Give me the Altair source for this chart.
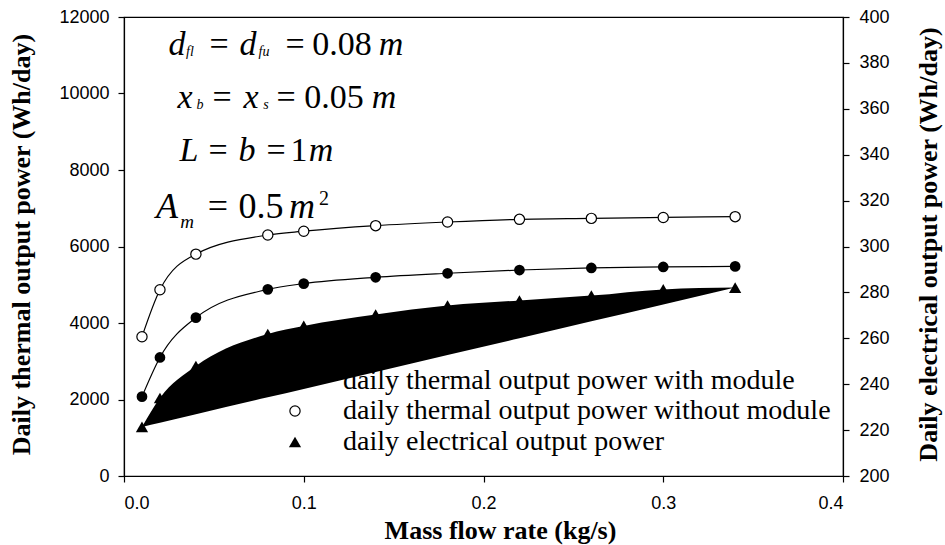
import altair as alt
import pandas as pd

# ---------------- data ----------------
mass_flow = [0.01, 0.02, 0.04, 0.08, 0.10, 0.14, 0.18, 0.22, 0.26, 0.30, 0.34]
thermal_without = [3640, 4870, 5800, 6300, 6400, 6545, 6640, 6710, 6735, 6760, 6780]
thermal_with = [2075, 3100, 4140, 4880, 5030, 5195, 5300, 5385, 5440, 5465, 5480]
electrical = [221.4, 234.0, 247.9, 261.9, 265.4, 270.4, 274.3, 276.5, 278.6, 281.3, 282.1]

legend_labels = [
    "daily thermal output power with module",
    "daily thermal output power without module",
    "daily electrical output power",
]
x_ticks = [0.0, 0.1, 0.2, 0.3, 0.4]
left_ticks = [0, 2000, 4000, 6000, 8000, 10000, 12000]
right_ticks = [200, 220, 240, 260, 280, 300, 320, 340, 360, 380, 400]

# ---------------- tables ----------------
df = pd.DataFrame({
    "x": mass_flow,
    "without": thermal_without,
    "with": thermal_with,
    "elec": electrical,
})
x0, xn = mass_flow[0], mass_flow[-1]
e0, en = electrical[0], electrical[-1]
df["chord"] = [e0 + (v - x0) * (en - e0) / (xn - x0) for v in mass_flow]

W, H = 719, 459
SERIF = "Liberation Serif"

xenc = alt.X("x:Q", scale=alt.Scale(domain=[0, 0.4], nice=False),
             axis=alt.Axis(values=x_ticks, format=".1f", title="Mass flow rate (kg/s)",
                           tickSize=6, labelPadding=12, titleX=376, titleY=62,
                           titleAlign="center", titleBaseline="alphabetic"))

yleft_scale = alt.Scale(domain=[0, 12000], nice=False)
yleft_axis = alt.Axis(orient="left", values=left_ticks, format="d",
                      title="Daily thermal output power (Wh/day)",
                      tickSize=6, labelPadding=9, titleAngle=270, titleX=-95, titleY=227,
                      titleAlign="center", titleBaseline="alphabetic")

base = alt.Chart(df)

line_without = base.mark_line(color="black", strokeWidth=1.2, interpolate="monotone").encode(
    x=xenc, y=alt.Y("without:Q", scale=yleft_scale, axis=yleft_axis))
pts_without = base.mark_point(shape="circle", filled=True, fill="white", stroke="black",
                              strokeWidth=1.2, size=105, opacity=1).encode(
    x="x:Q", y="without:Q")
line_with = base.mark_line(color="black", strokeWidth=1.2, interpolate="monotone").encode(
    x="x:Q", y="with:Q")
pts_with = base.mark_point(shape="circle", filled=True, color="black", size=115, opacity=1).encode(
    x="x:Q", y="with:Q")

thermal = alt.layer(line_without, line_with, pts_without, pts_with)

yright_scale = alt.Scale(domain=[200, 400], nice=False)
yright_axis = alt.Axis(orient="right", values=right_ticks, format="d",
                       title="Daily electrical output power (Wh/day)",
                       tickSize=6, labelPadding=10, titleAngle=270, titleX=93, titleY=227,
                       titleAlign="center", titleBaseline="alphabetic")

elec_area = base.mark_area(color="black", opacity=1, interpolate="monotone").encode(
    x="x:Q",
    y=alt.Y("elec:Q", scale=yright_scale, axis=yright_axis),
    y2="chord:Q")
elec_pts = base.mark_point(shape="triangle-up", filled=True, color="black", size=150, opacity=1).encode(
    x="x:Q", y="elec:Q")
elec = alt.layer(elec_area, elec_pts)

# ---------------- legend (drawn beneath the plotted marks) ----------------
one = pd.DataFrame({"k": [0]})
leg_sym_x = 171
leg_rows_sym_y = [364, 394, 425]
leg_rows_txt_y = [372, 402, 433]
leg_layers = []
sym_marks = [
    dict(shape="circle", filled=True, color="black", size=115, opacity=1),
    dict(shape="circle", filled=True, fill="white", stroke="black", strokeWidth=1.2, size=105, opacity=1),
    dict(shape="triangle-up", filled=True, color="black", size=150, opacity=1),
]
for i, lab in enumerate(legend_labels):
    leg_layers.append(alt.Chart(one).mark_point(**sym_marks[i]).encode(
        x=alt.value(leg_sym_x), y=alt.value(leg_rows_sym_y[i])))
    leg_layers.append(alt.Chart(pd.DataFrame({"t": [lab]})).mark_text(
        font=SERIF, fontSize=28, color="black", align="left", baseline="alphabetic").encode(
        x=alt.value(219), y=alt.value(leg_rows_txt_y[i]), text="t:N"))

# ---------------- equation annotations ----------------
# (text, centre x, baseline y, size, italic) in absolute page pixels
pieces = [
    ("d", 177, 55, 34, True), ("fl", 190, 56, 14, True), ("=", 219, 55, 34, False),
    ("d", 248, 55, 34, True), ("fu", 264, 56, 14, True), ("=", 295, 55, 34, False),
    ("0.08", 342, 55, 34, False), ("m", 391, 55, 34, True),
    ("x", 185, 108, 34, True), ("b", 200, 109, 14, True), ("=", 222, 108, 34, False),
    ("x", 251, 108, 34, True), ("s", 266, 109, 14, True), ("=", 286, 108, 34, False),
    ("0.05", 334, 108, 34, False), ("m", 384, 108, 34, True),
    ("L", 189, 161, 34, True), ("=", 218, 161, 34, False), ("b", 247, 161, 34, True),
    ("=", 276, 161, 34, False), ("1", 299, 161, 34, False), ("m", 321, 161, 34, True),
    ("A", 167, 218, 36, True), ("m", 187, 228, 19, True), ("=", 218, 218, 36, False),
    ("0.5", 261, 218, 36, False), ("m", 302, 218, 36, True), ("2", 324, 205, 20, False),
]
ann_layers = []
for t, cx, by, fs, it in pieces:
    ann_layers.append(alt.Chart(one).mark_text(
        font=SERIF, fontSize=fs, fontStyle="italic" if it else "normal", color="black",
        align="center", baseline="alphabetic").encode(
        x=alt.value(cx - 124), y=alt.value(by - 17), text=alt.value(t)))

chart = alt.layer(thermal, *leg_layers, elec, *ann_layers).resolve_scale(
    y="independent"
).properties(
    width=W, height=H,
    autosize=alt.AutoSizeParams(type="none"),
    padding={"left": 124, "top": 17, "right": 945 - 124 - W, "bottom": 545 - 17 - H},
    background="white",
).configure_view(
    stroke="black", strokeWidth=1.2
).configure_axis(
    grid=False, domainColor="black", domainWidth=1.2, tickColor="black", tickWidth=1.2,
    labelColor="black", labelFont="Liberation Sans", labelFontSize=18,
    titleColor="black", titleFont=SERIF, titleFontSize=26, titleFontWeight="bold",
)

chart.save("out.html", embed_options={"renderer": "svg", "actions": False})
